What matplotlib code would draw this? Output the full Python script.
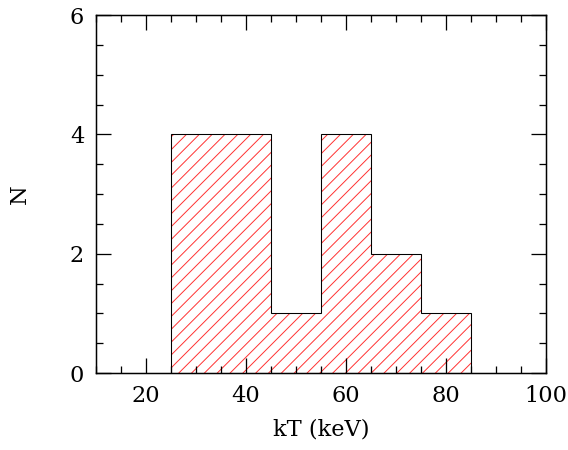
import numpy as np
import matplotlib
matplotlib.use("Agg")
import matplotlib.pyplot as plt
from matplotlib.ticker import MultipleLocator

# temperature bins (keV) and number of objects per bin
bin_edges = [25, 35, 45, 55, 65, 75, 85]
counts = [4, 4, 1, 4, 2, 1]

DPI = 77
plt.rcParams["font.family"] = "DejaVu Serif"
plt.rcParams["hatch.linewidth"] = 0.9

fig = plt.figure(figsize=(568 / DPI, 450 / DPI), dpi=DPI)
ax = fig.add_axes([96 / 568, 77 / 450, 450 / 568, 358 / 450])

# red hatching, then the black step outline on top
ax.stairs(counts, bin_edges, fill=True, hatch="//", facecolor="none",
          edgecolor="#ff3030", linewidth=0)
ax.stairs(counts, bin_edges, baseline=0, color="black", linewidth=1.0)

ax.set_xlim(10, 100)
ax.set_ylim(0, 6)
ax.xaxis.set_major_locator(MultipleLocator(20))
ax.xaxis.set_minor_locator(MultipleLocator(5))
ax.yaxis.set_major_locator(MultipleLocator(2))
ax.yaxis.set_minor_locator(MultipleLocator(0.5))
ax.tick_params(which="both", direction="in", top=True, right=True,
               width=1.2, labelsize=21)
ax.tick_params(which="major", length=14, pad=11)
ax.tick_params(which="minor", length=6.5)
for s in ax.spines.values():
    s.set_linewidth(1.4)

ax.set_xlabel("kT (keV)", fontsize=21, labelpad=11)
ax.set_ylabel("N", fontsize=21, labelpad=36)

fig.savefig("out.png", dpi=DPI)
